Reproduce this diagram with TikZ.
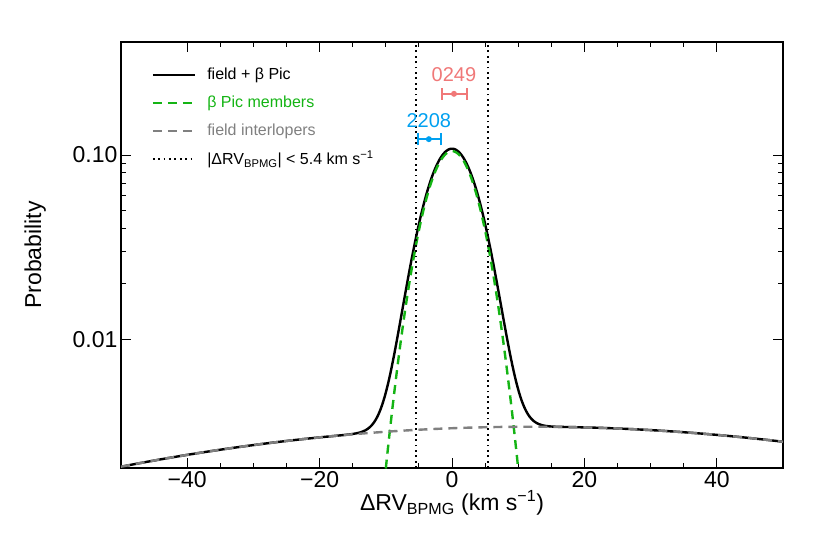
\documentclass[tikz,border=0pt]{standalone}
\usepackage{fontspec}
\setmainfont{Liberation Sans}
\usepackage{pgfplots}
\pgfplotsset{compat=1.18}
\definecolor{bgreen}{RGB}{20,180,20}
\definecolor{fgray}{RGB}{128,128,128}
\definecolor{salm}{RGB}{240,120,120}
\definecolor{sky}{RGB}{0,160,240}
\tikzset{curve/.style={line width=2.4pt},dashcurve/.style={line width=2.4pt,dash pattern=on 9pt off 6pt},
 dotline/.style={line width=1.8pt,dash pattern=on 1.8pt off 3.6pt},
 leg/.style={font=\fontsize{16}{18}\selectfont,anchor=west}}
\begin{document}
\begin{tikzpicture}[x=1pt,y=1pt]
\useasboundingbox (0,0) rectangle (830,554);
\begin{axis}[at={(121pt,86pt)},anchor=south west,width=662pt,height=426pt,scale only axis,
 xmin=-50,xmax=50,ymin=0.002,ymax=0.411,ymode=log,
 axis line style={line width=1.3pt},
 xtick={-40,-20,0,20,40},xticklabels={−40,−20,0,20,40},minor x tick num=3,
 ytick={0.01,0.1},yticklabels={0.01,0.10},
 tick style={line width=1pt,black},major tick length=10pt,minor tick length=5pt,
 tick align=inside,
 ticklabel style={font=\fontsize{23}{25}\selectfont},
 xlabel={\fontsize{23}{25}\selectfont ΔRV\textsubscript{BPMG} (km s\textsuperscript{−1})},
 ylabel={\fontsize{23}{25}\selectfont Probability},
 xlabel style={yshift=4pt},ylabel style={yshift=20pt},
 clip=true]
\addplot[curve,black,domain=-50:50,samples=500] {0.105*exp(-x^2/(2*3.55^2))+0.00335*exp(-(x-12)^2/(2*62^2))};
\addplot[dashcurve,bgreen,domain=-10:10,samples=300] {0.105*exp(-x^2/(2*3.55^2))};
\addplot[dashcurve,fgray,domain=-50:50,samples=200] {0.00335*exp(-(x-12)^2/(2*62^2))};
\draw[dotline] (axis cs:-5.4,0.002) -- (axis cs:-5.4,0.411);
\draw[dotline] (axis cs:5.4,0.002) -- (axis cs:5.4,0.411);
% error bars
\draw[salm,line width=2pt] (axis cs:-1.5,0.215) -- (axis cs:2.3,0.215);
\draw[salm,line width=1.5pt] (axis cs:-1.5,0.2) -- (axis cs:-1.5,0.23) (axis cs:2.3,0.2) -- (axis cs:2.3,0.23);
\fill[salm] (axis cs:0.3,0.215) circle (3pt);
\node[salm,font=\fontsize{20}{22}\selectfont] at (axis cs:0.3,0.272) {0249};
\draw[sky,line width=2pt] (axis cs:-5.1,0.122) -- (axis cs:-1.7,0.122);
\draw[sky,line width=1.5pt] (axis cs:-5.1,0.113) -- (axis cs:-5.1,0.131) (axis cs:-1.7,0.113) -- (axis cs:-1.7,0.131);
\fill[sky] (axis cs:-3.5,0.122) circle (3pt);
\node[sky,font=\fontsize{20}{22}\selectfont] at (axis cs:-3.5,0.154) {2208};
% legend
\draw[curve,black] (axis cs:-45.2,0.272) -- (axis cs:-38.8,0.272);
\node[leg] at (axis cs:-37.5,0.272) {field + β Pic};
\draw[dashcurve,bgreen] (axis cs:-45.2,0.192) -- (axis cs:-38.8,0.192);
\node[leg,bgreen] at (axis cs:-37.5,0.192) {β Pic members};
\draw[dashcurve,fgray] (axis cs:-45.2,0.135) -- (axis cs:-38.8,0.135);
\node[leg,fgray] at (axis cs:-37.5,0.135) {field interlopers};
\draw[dotline] (axis cs:-45.2,0.095) -- (axis cs:-38.8,0.095);
\node[leg] at (axis cs:-37.5,0.095) {|ΔRV\textsubscript{BPMG}| < 5.4 km s\textsuperscript{−1}};
\end{axis}
\end{tikzpicture}
\end{document}
